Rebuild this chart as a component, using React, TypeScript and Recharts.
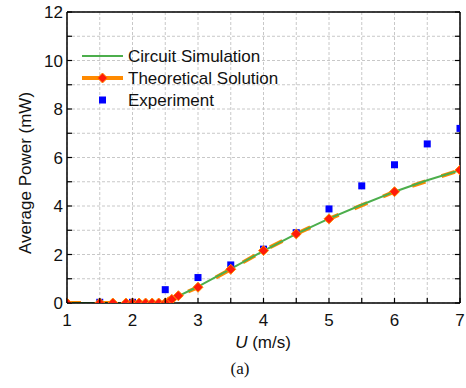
import React from "react";
import {
  ComposedChart,
  Line,
  Scatter,
  XAxis,
  YAxis,
  CartesianGrid,
} from "recharts";

// wind speed U (m/s) vs average power (mW)
const simU = [1, 2.5, 2.6, 2.7, 3, 3.5, 4, 4.5, 5, 5.5, 6, 6.5, 7];
const simP = [0, 0, 0.12, 0.28, 0.68, 1.41, 2.15, 2.85, 3.48, 4.05, 4.59, 5.06, 5.48];

const theoU = [1, 1.5, 1.7, 1.9, 2, 2.1, 2.2, 2.3, 2.4, 2.5, 2.55, 2.6, 2.7, 3, 3.5, 4, 4.5, 5, 6, 7];
const theoP = [0, 0, 0, 0, 0, 0, 0, 0, 0, 0, 0.05, 0.15, 0.3, 0.65, 1.39, 2.16, 2.85, 3.47, 4.59, 5.48];

const expU = [1.5, 2, 2.5, 3, 3.5, 4, 4.5, 5, 5.5, 6, 6.5, 7];
const expP = [0.03, 0.03, 0.55, 1.05, 1.57, 2.22, 2.9, 3.88, 4.83, 5.7, 6.56, 7.2];

const xTicks = [1, 1.5, 2, 2.5, 3, 3.5, 4, 4.5, 5, 5.5, 6, 6.5, 7];
const xLabels = [1, 2, 3, 4, 5, 6, 7];
const yTicks = [0, 1, 2, 3, 4, 5, 6, 7, 8, 9, 10, 11, 12];
const yLabels = [0, 2, 4, 6, 8, 10, 12];

const simData = simU.map((u, i) => ({ u, p: simP[i] }));
const theoData = theoU.map((u, i) => ({ u, p: theoP[i] }));
const expData = expU.map((u, i) => ({ u, p: expP[i] }));

const GREEN = "#4cae4c";
const ORANGE = "#ff8a00";
const RED = "#ff1a0a";
const BLUE = "#0000ff";
const FONT = "'Liberation Sans', Arial, sans-serif";

// inward ticks, labels only on the integer / even values
const BottomTick = (props: any) => {
  const { x, y, payload } = props;
  const v = payload.value;
  return (
    <g>
      <line x1={x} y1={y} x2={x} y2={y - 5} stroke="#000" strokeWidth={1.2} />
      {xLabels.includes(v) && (
        <text x={x} y={y + 23} textAnchor="middle" fontSize={17} fontFamily={FONT} fill="#111">
          {v}
        </text>
      )}
    </g>
  );
};

const TopTick = (props: any) => {
  const { x, y } = props;
  return <line x1={x} y1={y} x2={x} y2={y + 5} stroke="#000" strokeWidth={1.2} />;
};

const LeftTick = (props: any) => {
  const { x, y, payload } = props;
  const v = payload.value;
  return (
    <g>
      <line x1={x} y1={y} x2={x + 5} y2={y} stroke="#000" strokeWidth={1.2} />
      {yLabels.includes(v) && (
        <text x={x - 4} y={y + 6} textAnchor="end" fontSize={17} fontFamily={FONT} fill="#111">
          {v}
        </text>
      )}
    </g>
  );
};

const RightTick = (props: any) => {
  const { x, y } = props;
  return <line x1={x} y1={y} x2={x - 5} y2={y} stroke="#000" strokeWidth={1.2} />;
};

const Diamond = (props: any) => {
  const { cx, cy, index } = props;
  if (cx == null || cy == null) return <g key={index} />;
  const r = 5;
  return (
    <polygon
      key={index}
      points={`${cx},${cy - r} ${cx + r},${cy} ${cx},${cy + r} ${cx - r},${cy}`}
      fill={RED}
      stroke={ORANGE}
      strokeWidth={1}
    />
  );
};

const Square = (props: any) => {
  const { cx, cy } = props;
  return <rect x={cx - 3.5} y={cy - 3.5} width={7} height={7} fill={BLUE} />;
};

export default function App() {
  return (
    <div style={{ position: "absolute", left: 0, top: 0, width: 466, height: 388, background: "#fff" }}>
      <ComposedChart width={466} height={388} margin={{ top: 11, right: 5, left: 7, bottom: 45 }}>
        <CartesianGrid stroke="#c8c8c8" strokeDasharray="3 2" />
        <XAxis
          dataKey="u"
          type="number"
          domain={[1, 7]}
          ticks={xTicks}
          allowDataOverflow
          height={40}
          tickSize={0}
          tickMargin={0}
          tickLine={false}
          tick={<BottomTick />}
          axisLine={{ stroke: "#000", strokeWidth: 1.5 }}
        />
        <XAxis
          xAxisId="top"
          orientation="top"
          type="number"
          domain={[1, 7]}
          ticks={xTicks}
          allowDataOverflow
          height={1}
          tickSize={0}
          tickMargin={0}
          tickLine={false}
          tick={<TopTick />}
          axisLine={{ stroke: "#000", strokeWidth: 1.5 }}
        />
        <YAxis
          dataKey="p"
          type="number"
          domain={[0, 12]}
          ticks={yTicks}
          allowDataOverflow
          width={60}
          tickSize={0}
          tickMargin={0}
          tickLine={false}
          tick={<LeftTick />}
          axisLine={{ stroke: "#000", strokeWidth: 1.5 }}
        />
        <YAxis
          yAxisId="right"
          orientation="right"
          type="number"
          domain={[0, 12]}
          ticks={yTicks}
          allowDataOverflow
          width={1}
          tickSize={0}
          tickMargin={0}
          tickLine={false}
          tick={<RightTick />}
          axisLine={{ stroke: "#000", strokeWidth: 1.5 }}
        />
        <Scatter data={expData} dataKey="p" shape={<Square />} isAnimationActive={false} />
        <Line
          data={theoData}
          dataKey="p"
          type="linear"
          stroke={ORANGE}
          strokeWidth={4}
          strokeDasharray="14 17"
          dot={false}
          isAnimationActive={false}
        />
        <Line
          data={simData}
          dataKey="p"
          type="linear"
          stroke={GREEN}
          strokeWidth={2}
          dot={false}
          isAnimationActive={false}
        />
        <Line
          data={theoData}
          dataKey="p"
          stroke="none"
          dot={<Diamond />}
          isAnimationActive={false}
        />
      </ComposedChart>

      <svg
        width={466}
        height={388}
        style={{ position: "absolute", left: 0, top: 0, pointerEvents: "none" }}
      >
        {/* legend */}
        <line x1={82} y1={56} x2={123} y2={56} stroke={GREEN} strokeWidth={2} />
        <line x1={82} y1={78} x2={123} y2={78} stroke={ORANGE} strokeWidth={4} />
        <polygon points="102.5,73 107.5,78 102.5,83 97.5,78" fill={RED} stroke={ORANGE} strokeWidth={1} />
        <rect x={99} y={96.5} width={7} height={7} fill={BLUE} />
        <g fontFamily={FONT} fontSize={17} fill="#111">
          <text x={128} y={62}>Circuit Simulation</text>
          <text x={128} y={84}>Theoretical Solution</text>
          <text x={128} y={106}>Experiment</text>
        </g>

        {/* axis titles */}
        <text
          x={31}
          y={173}
          transform="rotate(-90 31 173)"
          textAnchor="middle"
          fontFamily={FONT}
          fontSize={17}
          fill="#111"
        >
          Average Power (mW)
        </text>
        <text x={263} y={348} textAnchor="middle" fontFamily={FONT} fontSize={17} fill="#111">
          <tspan fontStyle="italic">U</tspan> (m/s)
        </text>
        <text
          x={240}
          y={374}
          textAnchor="middle"
          fontFamily="'Liberation Serif', 'Times New Roman', serif"
          fontSize={17}
          fill="#111"
        >
          (a)
        </text>
      </svg>
    </div>
  );
}
